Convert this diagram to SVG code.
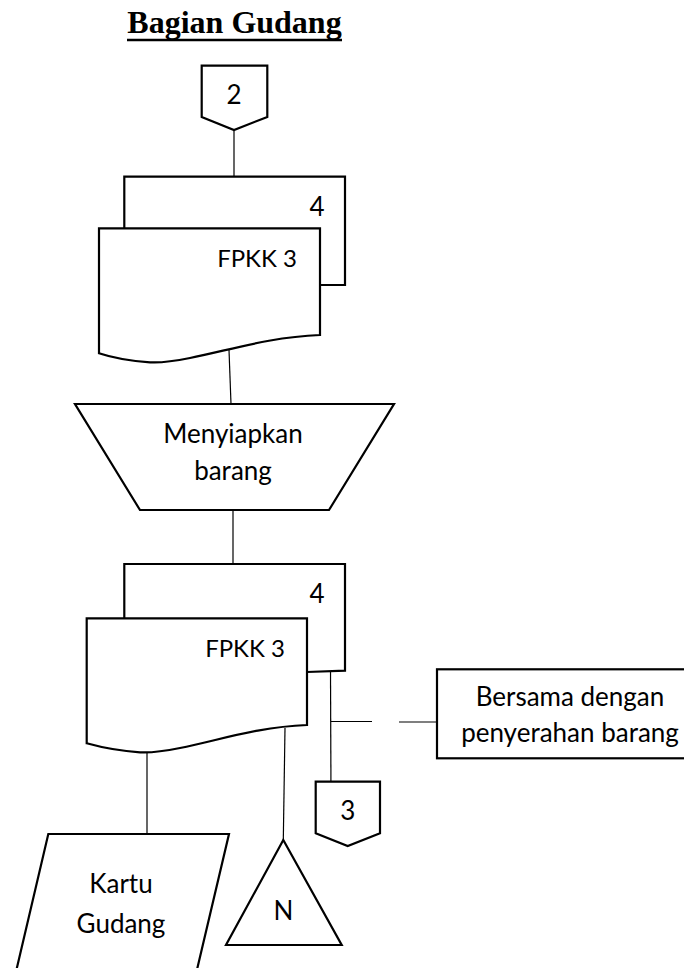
<svg xmlns="http://www.w3.org/2000/svg" width="684" height="968" viewBox="0 0 684 968">
  <style>
    .shape { fill: #fff; stroke: #000; stroke-width: 2.2; stroke-linejoin: miter; }
    .conn { fill: none; stroke: #000; stroke-width: 1.2; }
    .lbl { font-family: Lato, "Open Sans", sans-serif; font-size: 26px; fill: #000; }
    .doc { font-size: 24px; }
    .mid { text-anchor: middle; }
    .end { text-anchor: end; }
    .title { font-family: "Liberation Serif", serif; font-weight: bold; font-size: 32px; text-anchor: middle; fill: #000; }
  </style>
  <rect width="684" height="968" fill="#fff"/>

  <g id="title">
    <text class="title" x="234.5" y="33">Bagian Gudang</text>
    <line x1="127" y1="40" x2="342" y2="40" stroke="#000" stroke-width="2.4"/>
  </g>

  <g id="connectors">
    <line class="conn" x1="234" y1="130" x2="234" y2="177"/>
    <line class="conn" x1="229" y1="350" x2="231" y2="404"/>
    <line class="conn" x1="233" y1="510" x2="233" y2="564"/>
    <line class="conn" x1="147" y1="750" x2="147" y2="834"/>
    <line class="conn" x1="285" y1="728" x2="283.3" y2="840"/>
    <line class="conn" x1="330.5" y1="670" x2="331" y2="797"/>
    <line class="conn" x1="331" y1="721.5" x2="372" y2="721.5"/>
    <line class="conn" x1="399" y1="722" x2="437" y2="722"/>
  </g>

  <g id="offpage-2">
    <polygon class="shape" points="201.7,65.7 267.3,65.7 267.3,117 234,130 201.7,117"/>
    <text class="lbl mid" x="234" y="104">2</text>
  </g>

  <g id="doc-fpkk-1">
    <polyline class="shape" points="320,285 345,285 345,176.7 124.3,176.7 124.3,229"/>
    <text class="lbl mid" x="317" y="216">4</text>
    <path class="shape" d="M99,228.3 H320 V335 C270,337 230,350 190,358 C170,362 160,363 150,362.3 C130,361 110,357 99,353.3 Z"/>
    <text class="lbl doc end" x="297" y="267">FPKK 3</text>
  </g>

  <g id="manual-op">
    <polygon class="shape" points="75,404 394,404 329,510 140,510"/>
    <text class="lbl mid" x="233" y="443">Menyiapkan</text>
    <text class="lbl mid" x="233" y="480">barang</text>
  </g>

  <g id="doc-fpkk-2">
    <polyline class="shape" points="307,672 345,670.7 345,564 124.3,564 124.3,618.3"/>
    <text class="lbl mid" x="317" y="603">4</text>
    <path class="shape" d="M86.7,618.3 H307 V725 C257,727 220,740 180,748 C160,752 150,753 140,752.3 C120,751 100,747 86.7,743.3 Z"/>
    <text class="lbl doc end" x="285" y="657">FPKK 3</text>
  </g>

  <g id="note">
    <rect class="shape" x="437" y="669.3" width="260" height="89"/>
    <text class="lbl mid" x="570" y="706">Bersama dengan</text>
    <text class="lbl mid" x="570" y="742">penyerahan barang</text>
  </g>

  <g id="offpage-3">
    <polygon class="shape" points="315.7,781.7 380,781.7 380,833.3 347.7,846 315.7,833.3"/>
    <text class="lbl mid" x="347.7" y="820">3</text>
  </g>

  <g id="kartu-gudang">
    <polygon class="shape" points="48.3,834 229,834 195.5,976 15,976"/>
    <text class="lbl mid" x="121" y="893">Kartu</text>
    <text class="lbl mid" x="121" y="933">Gudang</text>
  </g>

  <g id="archive-n">
    <polygon class="shape" points="283.3,840 341.7,945 226,945"/>
    <text class="lbl mid" x="283.5" y="920">N</text>
  </g>
</svg>
